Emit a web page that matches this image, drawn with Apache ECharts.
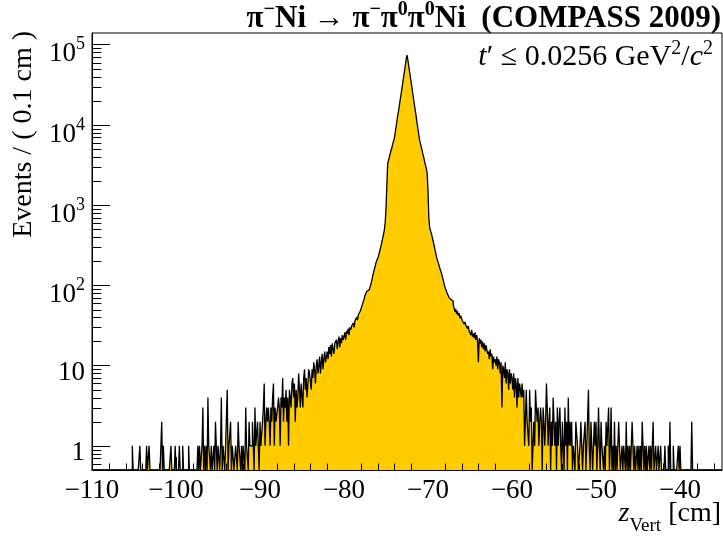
<!DOCTYPE html>
<html><head><meta charset="utf-8">
<script src="https://cdn.jsdelivr.net/npm/echarts@6/dist/echarts.min.js"></script>
<style>html,body{margin:0;padding:0;background:#fff}#c{width:723px;height:539px}</style>
</head><body><div id="c"></div>
<script>
// Histogram: bins of 0.1 cm starting at -110 cm, 10 bins per row (one row = 1 cm)
const binStart = -110;
const binWidth = 0.1;
const xMin = -110, xMax = -35;
const yMin = 0.5, yMax = 1.4e5;

// z from -110 to -85 cm
const countsLeftTail = [
  0,0,0,0,0,0,0,0,0,0,
  0,0,0,0,0,0,0,0,0,0,
  0,0,0,0,0,0,0,0,0,0,
  0,0,0,0,0,0,0,0,0,0,
  0,0,0,0,0,0,0,0,1,0,
  0,0,0,0,0,0,0,1,0,0,
  0,0,0,0,0,1,0,0,1,0,
  0,0,0,0,0,0,0,0,0,0,
  0,0,0,2,0,1,0,0,0,0,
  0,0,0,0,1,0,0,0,0,1,
  0,0,0,0,1,0,0,0,1,0,
  0,0,0,0,0,1,0,0,0,0,
  0,0,0,0,0,0,1,0,1,0,
  0,1,3,0,1,0,1,0,4,1,
  1,0,1,0,0,1,0,2,1,0,
  1,1,0,1,4,0,1,1,0,1,
  1,5,0,1,1,2,0,1,1,0,
  0,1,1,0,2,1,1,0,1,0,
  1,1,0,3,1,1,0,2,1,1,
  1,2,1,0,3,1,1,2,1,0,
  2,1,1,2,3,6,1,2,3,2,
  3,2,1,3,2,4,6,1,3,2,
  2,3,4,3,1,4,3,7,2,4,
  3,5,2,4,1,5,4,3,6,7,
  4,6,2,5,3,4,8,5,3,6
];
// z from -85 to -60 cm
const countsCore = [
  6,3,7,9,5,7,4,6,9,8,
  8,5,9,7,11,9,6,10,12,8,
  10,13,8,11,14,9,12,15,11,13,
  15,12,17,14,18,13,19,16,14,19,
  18,21,16,20,23,17,22,19,24,21,
  23,26,21,27,25,29,24,30,28,31,
  31,34,30,36,35,40,37,43,42,47,
  49,54,52,63,68,75,77,84,83,88,
  89,95,104,113,129,142,157,172,190,205,
  209,230,255,280,309,345,385,430,490,600,
  900,1800,3300,3600,4000,4400,4800,5200,5800,6300,
  6900,8100,9500,11200,13200,15100,17800,20900,24500,28800,
  33900,39800,46800,55000,66000,74000,65000,55000,46800,39800,
  33900,28800,24000,20400,17400,14800,12600,10500,8900,7600,
  6500,5900,5300,4800,4300,3900,3500,3150,2850,2500,
  1500,700,520,480,445,400,360,325,290,260,
  228,210,195,180,165,152,142,130,118,106,
  97,90,87,79,76,71,72,67,68,64,
  58,53,47,51,44,48,42,45,39,42,
  39,36,37,33,35,32,33,29,31,27,
  27,24,28,23,25,22,26,21,24,20,
  11,22,19,21,17,20,16,19,15,18,
  16,14,15,12,16,13,14,9,13,11,
  12,10,13,9,12,11,8,11,3,10,
  9,7,11,6,9,8,5,9,6,8
];
// z from -60 to -35 cm
const countsRightTail = [
  7,5,8,4,7,6,3,7,4,6,
  5,4,6,4,5,1,1,5,2,2,
  1,5,2,3,0,1,2,1,5,3,
  2,3,1,2,3,2,0,3,2,1,
  2,6,3,1,2,3,0,2,1,4,
  4,1,2,0,3,1,2,3,1,0,
  2,1,0,3,1,2,0,4,1,2,
  1,2,0,1,1,0,2,2,1,0,
  0,1,2,1,0,1,1,2,0,1,
  1,5,1,0,2,1,0,1,2,1,
  2,0,1,3,1,0,2,1,1,0,
  1,0,2,1,1,3,0,1,3,0,
  1,0,2,0,1,0,0,2,1,0,
  0,1,0,1,1,0,2,0,1,0,
  1,0,0,2,1,0,1,0,0,1,
  0,1,0,1,0,2,2,0,1,0,
  1,0,0,1,0,1,0,0,2,0,
  0,1,0,0,1,0,0,1,0,0,
  0,0,1,0,0,0,1,0,2,0,
  0,0,1,0,0,0,0,0,1,0,
  1,0,0,0,0,0,0,0,0,0,
  0,0,0,0,2,0,0,0,0,0,
  0,0,0,0,0,0,0,0,0,0,
  0,0,0,0,0,0,0,0,0,0,
  0,0,0,0,0,0,0,0,0,0
];

const xTickLabels = [-110, -100, -90, -80, -70, -60, -50, -40];
const yTickLabels = [1, 10, 100, 1000, 10000, 100000];

const counts = countsLeftTail.concat(countsCore, countsRightTail);

// step-line points at lower bin edges (+ closing upper edge)
const histData = counts.map((c, i) => [(binStart * 10 + i) / 10, c > 0 ? c : yMin]);
histData.push([xMax, counts[counts.length - 1] > 0 ? counts[counts.length - 1] : yMin]);

// minor tick positions
const xMinorTicks = [];
for (let v = -108; v < xMax; v += 2) if (v % 10 !== 0) xMinorTicks.push(v);
const yMinorTicks = [];
for (let n = -1; n <= 5; n++) for (let k = 2; k <= 9; k++) {
  const v = k * Math.pow(10, n);
  if (v > yMin && v < yMax) yMinorTicks.push(+v.toPrecision(3));
}

const FONT = 'Liberation Serif';
const chart = echarts.init(document.getElementById('c'), null, {renderer: 'canvas'});

chart.setOption({
  animation: false,
  backgroundColor: '#fff',
  textStyle: {fontFamily: FONT, color: '#000'},
  grid: {left: 92, right: 1, top: 33, bottom: 69, show: true, borderColor: '#000', borderWidth: 1, backgroundColor: 'transparent'},
  title: [
    {
      text: '{b|π}{bs|−}{b|Ni → π}{bs|−}{b|π}{bs|0}{b|π}{bs|0}{b|Ni  (COMPASS 2009)}',
      right: 2, top: 0, padding: 0,
      textStyle: {fontWeight: 'bold', rich: {
        b: {fontFamily: FONT, fontWeight: 'bold', fontSize: 31, lineHeight: 34, verticalAlign: 'bottom', color: '#000'},
        bs: {fontFamily: FONT, fontWeight: 'bold', fontSize: 20, lineHeight: 34, verticalAlign: 'top', color: '#000'}
      }}
    },
    {
      text: '{i|t}{r|′ ≤ 0.0256 GeV}{s|2}{r|/}{i|c}{s|2}',
      right: 10, top: 39, padding: 0,
      textStyle: {fontWeight: 'normal', rich: {
        r: {fontFamily: FONT, fontWeight: 'normal', fontSize: 30, lineHeight: 33, verticalAlign: 'bottom', color: '#000'},
        i: {fontFamily: FONT, fontWeight: 'normal', fontStyle: 'italic', fontSize: 30, lineHeight: 33, verticalAlign: 'bottom', color: '#000'},
        s: {fontFamily: FONT, fontWeight: 'normal', fontSize: 20, lineHeight: 33, verticalAlign: 'top', color: '#000'}
      }}
    },
    {
      text: '{i|z}{sub|Vert}{r| [cm]}',
      right: 2, top: 500, padding: 0,
      textStyle: {fontWeight: 'normal', rich: {
        r: {fontFamily: FONT, fontWeight: 'normal', fontSize: 28, lineHeight: 36, verticalAlign: 'top', color: '#000'},
        i: {fontFamily: FONT, fontWeight: 'normal', fontStyle: 'italic', fontSize: 28, lineHeight: 36, verticalAlign: 'top', color: '#000'},
        sub: {fontFamily: FONT, fontWeight: 'normal', fontSize: 19, lineHeight: 36, verticalAlign: 'bottom', color: '#000'}
      }}
    }
  ],
  graphic: [{
    type: 'text', x: 24, y: 31, rotation: Math.PI / 2, silent: true,
    style: {text: 'Events / ( 0.1 cm )', fontFamily: FONT, fontSize: 28, fill: '#000', align: 'right', verticalAlign: 'middle'}
  }],
  xAxis: {
    type: 'value', min: xMin, max: xMax, interval: 10,
    axisLine: {show: true, onZero: false, lineStyle: {color: '#000', width: 1}},
    axisTick: {show: true, inside: true, length: 13, lineStyle: {color: '#000', width: 1}},
    splitLine: {show: false},
    axisLabel: {
      color: '#000', fontFamily: FONT, fontSize: 27, margin: 7, showMaxLabel: false, showMinLabel: true,
      formatter: v => (xTickLabels.indexOf(v) >= 0 ? String(v).replace('-', '\u2212') : '')
    }
  },
  yAxis: {
    type: 'log', logBase: 10, min: yMin, max: yMax,
    axisLine: {show: true, lineStyle: {color: '#000', width: 1}},
    axisTick: {show: true, inside: true, length: 18, lineStyle: {color: '#000', width: 1}},
    splitLine: {show: false},
    axisLabel: {
      color: '#000', fontFamily: FONT, margin: 7, showMinLabel: false, showMaxLabel: false,
      padding: [14, 0, 0, 0],
      formatter: v => {
        const idx = yTickLabels.findIndex(t => Math.abs(t - v) / t < 1e-6);
        if (idx < 0) return '';
        if (idx === 0) return '{p|1}';
        if (idx === 1) return '{p|10}';
        return '{b|10}{s|' + idx + '}';
      },
      rich: {
        p: {fontFamily: FONT, fontSize: 27, color: '#000', lineHeight: 30},
        b: {fontFamily: FONT, fontSize: 27, color: '#000', lineHeight: 32, verticalAlign: 'bottom'},
        s: {fontFamily: FONT, fontSize: 18, color: '#000', lineHeight: 32, verticalAlign: 'top'}
      }
    }
  },
  series: [
    {
      type: 'line', data: histData, step: 'end', symbol: 'none', clip: true,
      lineStyle: {color: '#000', width: 1.3},
      areaStyle: {color: '#ffcc00', opacity: 1, origin: 'start'},
      silent: true, z: 2
    },
    {
      type: 'custom', silent: true, clip: false, z: 5,
      data: yMinorTicks.map(v => [xMin, v]),
      renderItem: (params, api) => {
        const p = api.coord([api.value(0), api.value(1)]);
        const y = Math.round(p[1]) + 0.5;
        return {type: 'line', shape: {x1: p[0], y1: y, x2: p[0] + 9.4, y2: y}, style: {stroke: '#000', lineWidth: 1}};
      }
    },
    {
      type: 'custom', silent: true, clip: false, z: 5,
      data: xMinorTicks.map(v => [v, yMin]),
      renderItem: (params, api) => {
        const p = api.coord([api.value(0), api.value(1)]);
        const x = Math.round(p[0]) + 0.5;
        return {type: 'line', shape: {x1: x, y1: p[1], x2: x, y2: p[1] - 6.5}, style: {stroke: '#000', lineWidth: 1}};
      }
    }
  ]
});
</script></body></html>
